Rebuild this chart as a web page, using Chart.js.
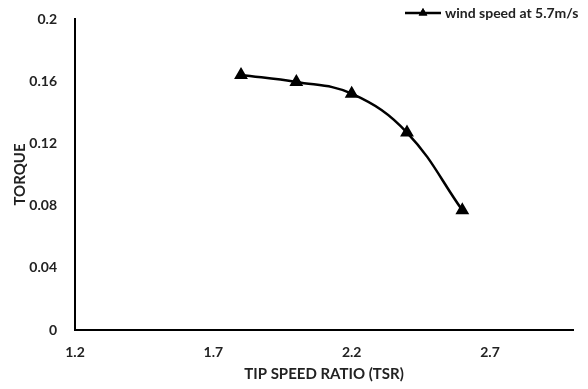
<!DOCTYPE html>
<html>
<head>
<meta charset="utf-8">
<script src="https://cdn.jsdelivr.net/npm/chart.js@4/dist/chart.umd.min.js"></script>
<style>
  html, body { margin: 0; padding: 0; background: #fff; }
  #wrap { width: 588px; height: 389px; position: relative; }
</style>
</head>
<body>
<div id="wrap"><canvas id="torqueChart"></canvas></div>
<script>
// tsr vs torque data
const TSR = [1.8, 2.0, 2.2, 2.4, 2.6];
const TORQUE = [0.164, 0.1595, 0.152, 0.127, 0.077];
const X_TICKS = [1.2, 1.7, 2.2, 2.7];
const Y_TICKS = [0, 0.04, 0.08, 0.12, 0.16, 0.2];
const SERIES_LABEL = "wind speed at 5.7m/s";

const FONT = "Lato, 'DejaVu Sans Condensed', sans-serif";
const TEXT_COLOR = "#222222";

// legend drawn as line + triangle + text, top right
const lineLegend = {
  id: "lineLegend",
  afterDraw(chart) {
    const ctx = chart.ctx;
    const ds = chart.data.datasets[0];
    const y = 13;
    ctx.save();
    ctx.strokeStyle = "#000";
    ctx.lineWidth = 2.5;
    ctx.beginPath();
    ctx.moveTo(405, y);
    ctx.lineTo(441, y);
    ctx.stroke();
    Chart.helpers.drawPoint(ctx, { pointStyle: "triangle", radius: 5, borderWidth: 0 }, 423, y);
    ctx.fillStyle = "#000";
    ctx.fill();
    ctx.font = "bold 14px " + FONT;
    ctx.fillStyle = TEXT_COLOR;
    ctx.textAlign = "left";
    ctx.textBaseline = "middle";
    ctx.fillText(ds.label, 445, y);
    ctx.restore();
  },
};

new Chart(document.getElementById("torqueChart"), {
  type: "scatter",
  data: {
    datasets: [
      {
        label: SERIES_LABEL,
        data: TSR.map((x, i) => ({ x: x, y: TORQUE[i] })),
        showLine: true,
        borderColor: "#000",
        backgroundColor: "#000",
        borderWidth: 2.5,
        tension: 0.4,
        pointStyle: "triangle",
        pointRadius: 5.5,
        pointHoverRadius: 5.5,
      },
    ],
  },
  options: {
    responsive: true,
    maintainAspectRatio: false,
    animation: false,
    layout: { padding: { top: 19, right: 15, left: 0, bottom: 0 } },
    plugins: {
      legend: { display: false },
      tooltip: { enabled: false },
    },
    scales: {
      x: {
        type: "linear",
        min: 1.2,
        max: 3.0,
        afterBuildTicks: (scale) => {
          scale.ticks = X_TICKS.map((v) => ({ value: v }));
        },
        afterFit: (scale) => {
          scale.height = 59;
        },
        grid: { display: false, drawTicks: false },
        border: { display: true, color: "#000", width: 2 },
        ticks: {
          padding: 14,
          color: TEXT_COLOR,
          font: { family: FONT, size: 14, weight: "bold" },
          callback: (v) => v.toFixed(1),
        },
        title: {
          display: true,
          text: "TIP SPEED RATIO (TSR)",
          color: TEXT_COLOR,
          font: { family: FONT, size: 15, weight: "bold" },
          padding: { top: 0, bottom: 6 },
        },
      },
      y: {
        type: "linear",
        min: 0,
        max: 0.2,
        afterBuildTicks: (scale) => {
          scale.ticks = Y_TICKS.map((v) => ({ value: v }));
        },
        afterFit: (scale) => {
          scale.width = 75;
          // tick padding is otherwise added to the top gap
          scale.paddingTop = 9;
          scale.paddingBottom = 9;
        },
        grid: { display: false, drawTicks: false },
        border: { display: true, color: "#000", width: 2 },
        ticks: {
          padding: 18,
          color: TEXT_COLOR,
          font: { family: FONT, size: 14, weight: "bold" },
          callback: (v) => String(v),
        },
        title: {
          display: true,
          text: "TORQUE",
          color: TEXT_COLOR,
          font: { family: FONT, size: 15, weight: "bold" },
          padding: { top: 11, bottom: 0 },
        },
      },
    },
  },
  plugins: [lineLegend],
});
</script>
</body>
</html>
